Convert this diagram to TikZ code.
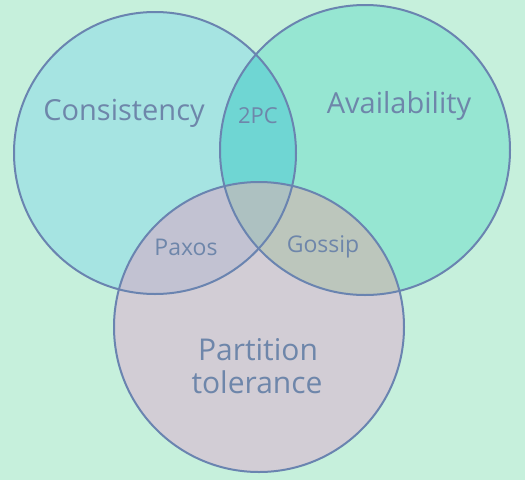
\documentclass[tikz,border=0pt]{standalone}
\usepackage{fontspec}
\setmainfont{Open Sans}
\begin{document}
\begin{tikzpicture}[x=1pt,y=-1pt,
  ring/.style={draw=ringcol,line width=2pt},
  label/.style={text=txtcol,inner sep=0pt,anchor=base},
  big/.style={label,font=\fontsize{29}{34}\selectfont},
  small/.style={label,font=\fontsize{23}{27}\selectfont}]
\definecolor{bg}{HTML}{C6F0DC}
\definecolor{cfill}{HTML}{A6E4E2}
\definecolor{afill}{HTML}{96E6D2}
\definecolor{pfill}{HTML}{D2CDD5}
\definecolor{cafill}{HTML}{6FD6D3}
\definecolor{cpfill}{HTML}{C2C2D2}
\definecolor{apfill}{HTML}{BCC6BC}
\definecolor{allfill}{HTML}{ADC1C1}
\definecolor{ringcol}{HTML}{6A84B0}
\definecolor{txtcol}{HTML}{6E86AA}
% background
\fill[bg] (0,0) rectangle (525,480);
\useasboundingbox (0,0) rectangle (525,480);
% circle centres and radii
\coordinate (c) at (155,153);
\coordinate (a) at (365,150);
\coordinate (p) at (259,327);
\def\rc{141}\def\ra{145}\def\rp{145}
% single regions
\fill[cfill] (c) circle[radius=\rc];
\fill[afill] (a) circle[radius=\ra];
\fill[pfill] (p) circle[radius=\rp];
% pairwise overlaps
\begin{scope}\clip (c) circle[radius=\rc]; \fill[cafill] (a) circle[radius=\ra];\end{scope}
\begin{scope}\clip (c) circle[radius=\rc]; \fill[cpfill] (p) circle[radius=\rp];\end{scope}
\begin{scope}\clip (a) circle[radius=\ra]; \fill[apfill] (p) circle[radius=\rp];\end{scope}
% triple overlap
\begin{scope}\clip (c) circle[radius=\rc]; \clip (a) circle[radius=\ra]; \fill[allfill] (p) circle[radius=\rp];\end{scope}
% outlines
\draw[ring] (c) circle[radius=\rc];
\draw[ring] (a) circle[radius=\ra];
\draw[ring] (p) circle[radius=\rp];
% labels
\node[big] (cons) at (124,120) {Consistency};
\node[big] (avail) at (399,113) {Availability};
\node[small,font=\fontsize{22}{26}\selectfont] (twopc) at (258,123) {2PC};
\node[small] (paxos) at (186,255) {Paxos};
\node[small] (gossip) at (323,252) {Gossip};
\node[big,font=\fontsize{30}{35}\selectfont] (part) at (258,360) {Partition};
\node[big,font=\fontsize{30}{35}\selectfont] (tol) at (257,393) {tolerance};
\end{tikzpicture}
\end{document}
